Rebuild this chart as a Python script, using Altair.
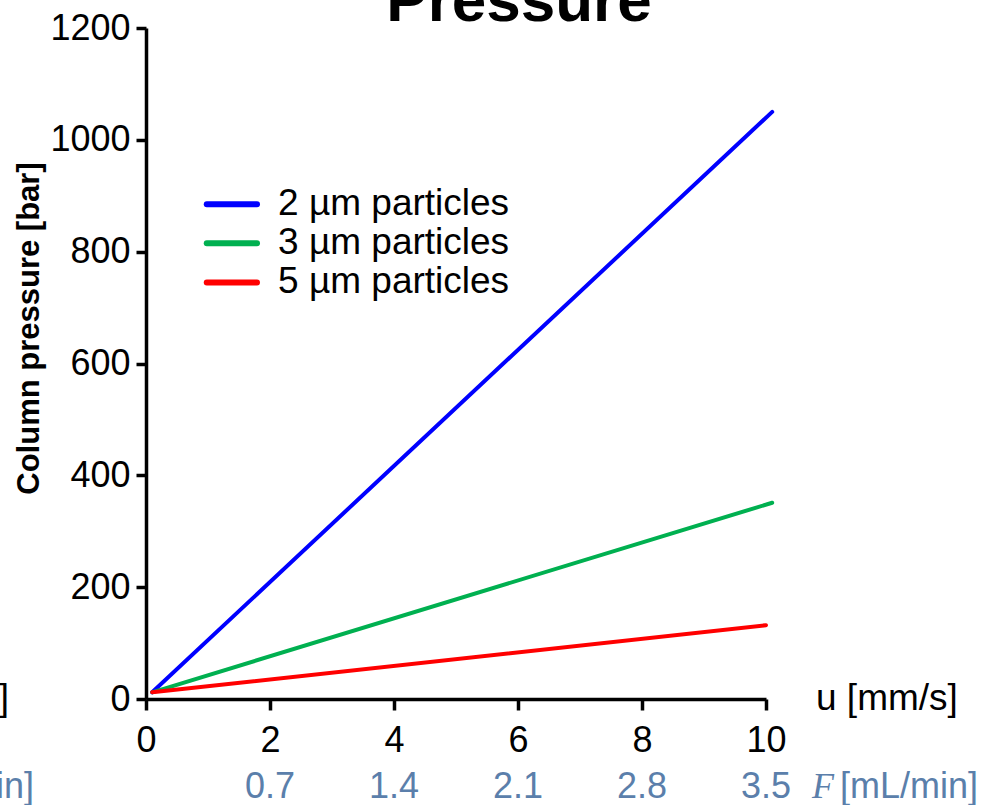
import altair as alt
import pandas as pd

# Column back-pressure versus linear velocity for three particle sizes
series = ["2 µm particles", "3 µm particles", "5 µm particles"]
colors = ["#0000ff", "#00b050", "#ff0000"]
u_start = [0.1, 0.1, 0.1]
u_end = [10.1, 10.1, 10.0]
p_start = [12, 12, 12]
p_end = [1050, 351, 132]

x_ticks = [0, 2, 4, 6, 8, 10]
y_ticks = [0, 200, 400, 600, 800, 1000, 1200]

# flow-rate equivalents shown under the velocity ticks
flow_pos = [2, 4, 6, 8, 10]
flow_labels = ["0.7", "1.4", "2.1", "2.8", "3.5"]

# key placed inside the plot, in data units
key_u0 = 0.98
key_u1 = 1.79
key_text_u = 2.13
key_p = [885, 815, 745]

FONT = "Liberation Sans"
FLOW_COLOR = "#5b7fab"

rows = []
for name, u0, u1, p0, p1 in zip(series, u_start, u_end, p_start, p_end):
    rows.append({"series": name, "u": u0, "p": p0})
    rows.append({"series": name, "u": u1, "p": p1})
lines_df = pd.DataFrame(rows)

x_scale = alt.Scale(domain=[0, 10], nice=False, zero=False)
y_scale = alt.Scale(domain=[0, 1200], nice=False)
color_scale = alt.Scale(domain=series, range=colors)

lines = alt.Chart(lines_df).mark_line(strokeWidth=4, strokeCap="round").encode(
    x=alt.X("u:Q", scale=x_scale,
            axis=alt.Axis(values=x_ticks, format="d", title=None, labelPadding=13,
                          tickSize=11, labelFlush=False, labelOverlap=False)),
    y=alt.Y("p:Q", scale=y_scale,
            axis=alt.Axis(values=y_ticks, format="d", title="Column pressure [bar]",
                          tickSize=10, labelPadding=6, labelFlush=False, labelOverlap=False,
                          titleFontSize=31, titleFontWeight="bold", titleAngle=270,
                          titleX=-117, titleY=300, titleAlign="center",
                          titleBaseline="middle")),
    color=alt.Color("series:N", scale=color_scale, legend=None),
)

key_df = pd.DataFrame({"series": series, "u0": key_u0, "u1": key_u1,
                       "ut": key_text_u, "p": key_p})
key_lines = alt.Chart(key_df).mark_rule(strokeWidth=6, strokeCap="round").encode(
    x=alt.X("u0:Q", scale=x_scale), x2="u1:Q",
    y=alt.Y("p:Q", scale=y_scale),
    color=alt.Color("series:N", scale=color_scale, legend=None),
)
key_text = alt.Chart(key_df).mark_text(
    font=FONT, fontSize=37, color="black", align="left", baseline="middle"
).encode(
    x=alt.X("ut:Q", scale=x_scale), y=alt.Y("p:Q", scale=y_scale), text="series:N"
)

flow_df = pd.DataFrame({"u": flow_pos, "label": flow_labels})
flow_text = alt.Chart(flow_df).mark_text(
    font=FONT, fontSize=36, color=FLOW_COLOR, align="center", baseline="middle"
).encode(x=alt.X("u:Q", scale=x_scale), y=alt.value(759), text="label:N")


def note(text, x, y, **kw):
    return alt.Chart(pd.DataFrame({"t": [text]})).mark_text(**kw).encode(
        x=alt.value(x), y=alt.value(y), text="t:N")


u_label = note("u [mm/s]", 670, 671, font=FONT, fontSize=37, color="black",
               align="left", baseline="middle")
f_symbol = note("F", 666, 759, font="Liberation Serif", fontStyle="italic",
                fontSize=36, color=FLOW_COLOR, align="left", baseline="middle")
f_unit = note("[mL/min]", 694, 759, font=FONT, fontSize=36, color=FLOW_COLOR,
              align="left", baseline="middle")

# axis captions of the neighbouring panel, running off the left edge
left_u = note("u [mm/s]", -137, 671, font=FONT, fontSize=37, color="black",
              align="right", baseline="middle")
left_f = note("[mL/min]", -112, 759, font=FONT, fontSize=36, color=FLOW_COLOR,
              align="right", baseline="middle")

title = note("Pressure", 373, -7, font=FONT, fontSize=62, fontWeight="bold",
             color="black", align="center", baseline="alphabetic")

chart = alt.layer(
    lines, key_lines, key_text, flow_text, u_label, f_symbol, f_unit,
    left_u, left_f, title
).properties(
    width=620,
    height=671,
    autosize=alt.AutoSizeParams(type="none"),
    padding={"left": 146, "top": 28, "right": 232, "bottom": 106},
    background="white",
).configure_view(
    stroke=None
).configure_axis(
    grid=False,
    domainColor="black",
    domainWidth=3.5,
    tickColor="black",
    tickWidth=3.5,
    labelColor="black",
    labelFont=FONT,
    labelFontSize=36,
    titleFont=FONT,
    titleColor="black",
)

chart.save("out.html", embed_options={"renderer": "svg", "actions": False})
